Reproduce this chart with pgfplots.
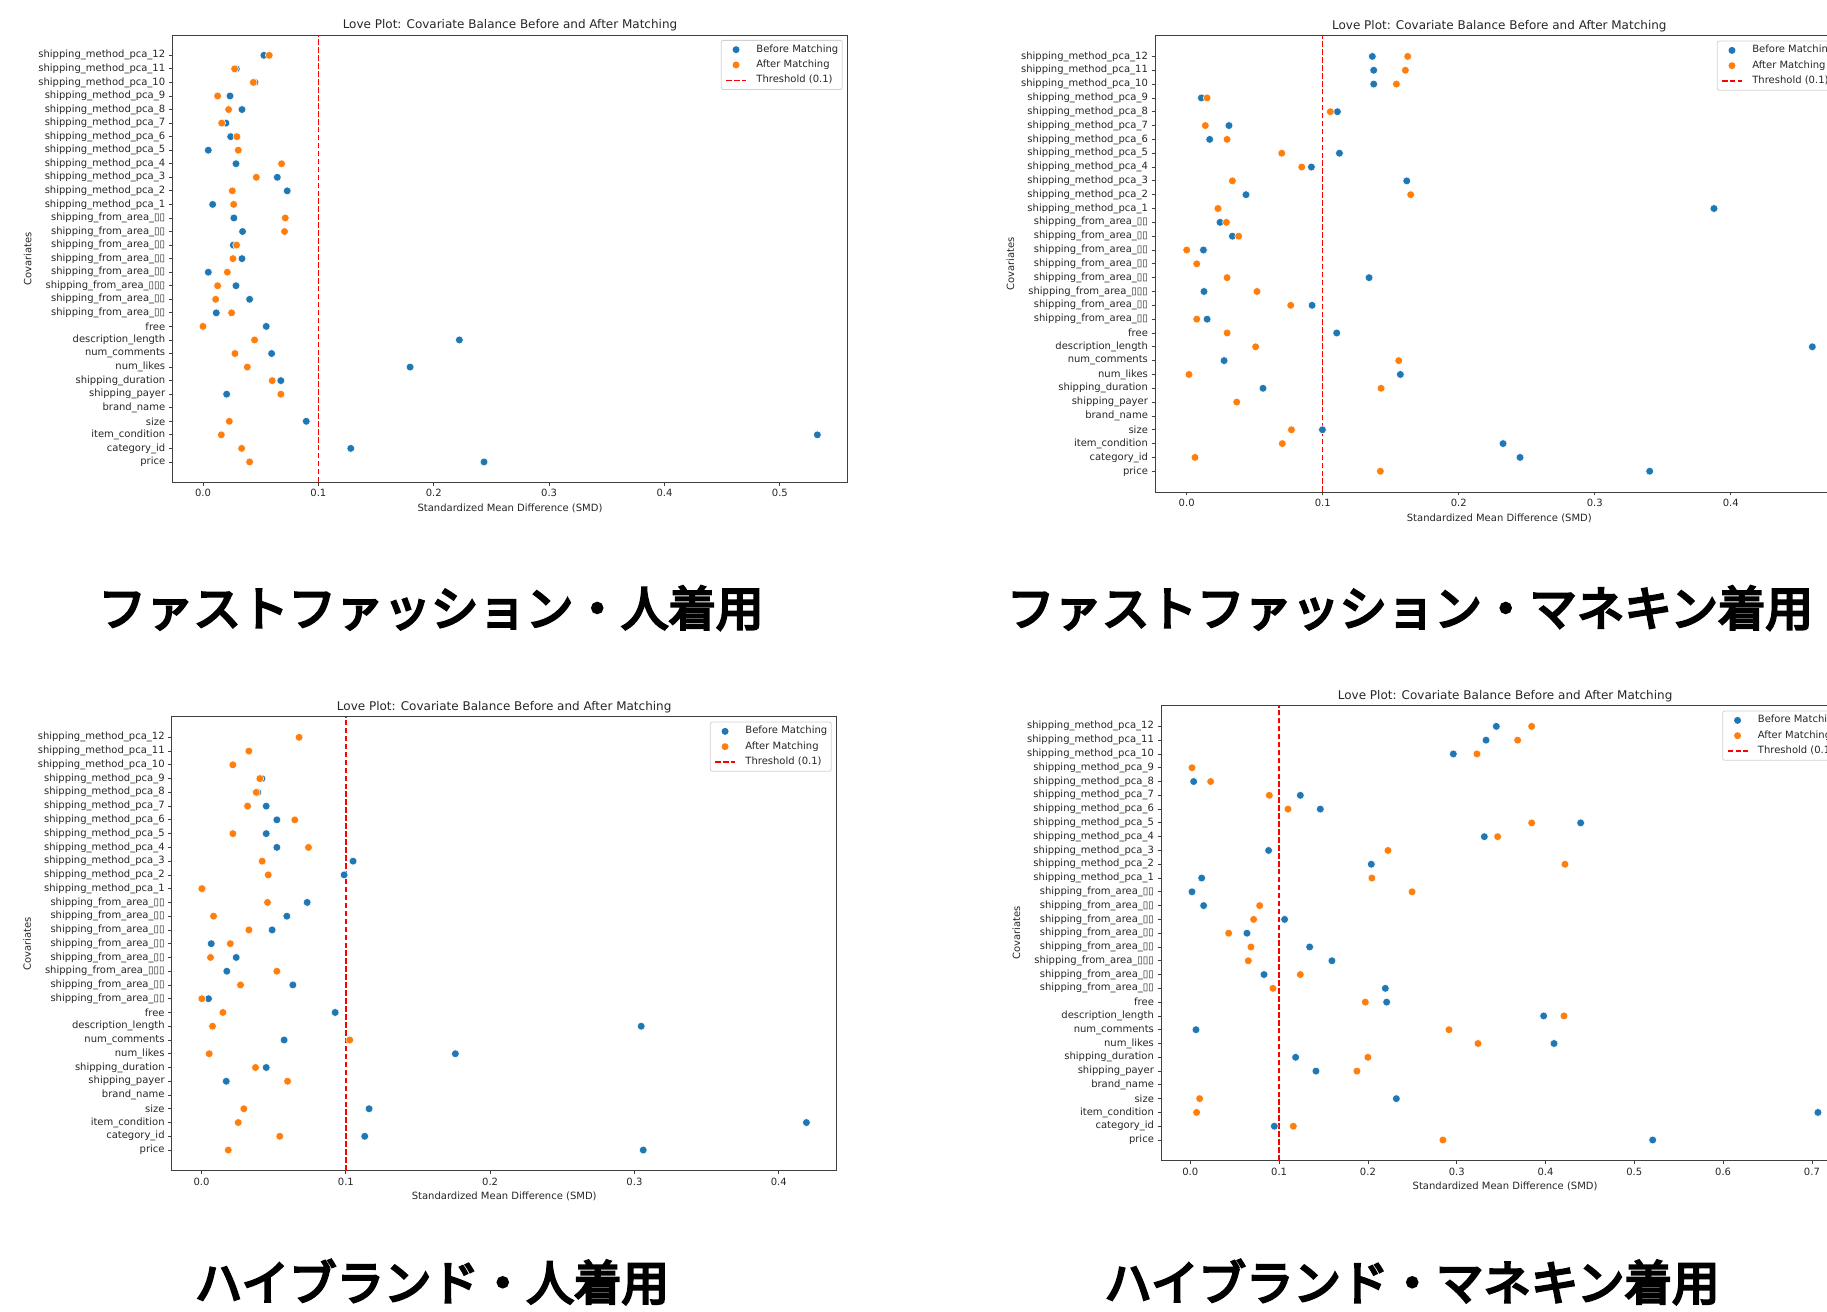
\documentclass[border=0pt]{standalone}
\usepackage{fontspec}
\setmainfont{DejaVu Sans}
\newfontfamily\cjk{Noto Sans CJK JP}[FakeBold=5]
\usepackage{pgfplots}
\usepackage{pgfplotstable}
\pgfplotsset{compat=1.18}
\definecolor{c1}{HTML}{1F77B4}
\definecolor{c2}{HTML}{FF7F0E}

% idx: 0 = price (bottom) ... 30 = shipping_method_pca_12 (top)
\pgfplotstableread{
i b a
30 0.0528 0.0574
29 0.0289 0.0274
28 0.0450 0.0436
27 0.0234 0.0127
26 0.0338 0.0222
25 0.0199 0.0162
24 0.0240 0.0294
23 0.0046 0.0306
22 0.0286 0.0681
21 0.0644 0.0462
20 0.0730 0.0254
19 0.0084 0.0266
18 0.0268 0.0713
17 0.0343 0.0707
16 0.0263 0.0291
15 0.0338 0.0260
14 0.0046 0.0211
13 0.0286 0.0127
12 0.0404 0.0110
11 0.0115 0.0248
10 0.0548 0.0000
9 0.2222 0.0447
8 0.0595 0.0277
7 0.1795 0.0384
6 0.0675 0.0600
5 0.0205 0.0675
4 nan nan
3 0.0895 0.0228
2 0.5325 0.0159
1 0.1281 0.0335
0 0.2436 0.0404
}\dataA

\pgfplotstableread{
i b a
30 0.1365 0.1625
29 0.1375 0.1608
28 0.1375 0.1542
27 0.0108 0.0150
26 0.1108 0.1056
25 0.0311 0.0137
24 0.0169 0.0297
23 0.1123 0.0699
22 0.0917 0.0846
21 0.1618 0.0336
20 0.0436 0.1647
19 0.3877 0.0230
18 0.0245 0.0292
17 0.0336 0.0382
16 0.0123 0.0000
15 nan 0.0074
14 0.1341 0.0297
13 0.0127 0.0517
12 0.0922 0.0765
11 0.0150 0.0074
10 0.1103 0.0297
9 0.4600 0.0507
8 0.0275 0.1559
7 0.1571 0.0017
6 0.0561 0.1429
5 nan 0.0368
4 nan nan
3 0.0998 0.0770
2 0.2326 0.0703
1 0.2451 0.0061
0 0.3404 0.1424
}\dataB

\pgfplotstableread{
i b a
30 nan 0.0676
29 nan 0.0328
28 nan 0.0217
27 0.0418 0.0404
26 0.0390 0.0379
25 0.0448 0.0319
24 0.0522 0.0646
23 0.0448 0.0217
22 0.0522 0.0741
21 0.1050 0.0420
20 0.0988 0.0462
19 0.0007 0.0002
18 0.0732 0.0457
17 0.0591 0.0083
16 0.0489 0.0328
15 0.0067 0.0199
14 0.0240 0.0062
13 0.0175 0.0522
12 0.0633 0.0270
11 0.0048 0.0002
10 0.0926 0.0148
9 0.3047 0.0076
8 0.0572 0.1027
7 0.1759 0.0053
6 0.0448 0.0374
5 0.0171 0.0596
4 nan nan
3 0.1161 0.0293
2 0.4192 0.0254
1 0.1131 0.0542
0 0.3061 0.0185
}\dataC

\pgfplotstableread{
i b a
30 0.3446 0.3844
29 0.3330 0.3686
28 0.2962 0.3228
27 nan 0.0019
26 0.0038 0.0229
25 0.1239 0.0890
24 0.1464 0.1100
23 0.4396 0.3844
22 0.3311 0.3461
21 0.0882 0.2226
20 0.2038 0.4219
19 0.0128 0.2045
18 0.0019 0.2497
17 0.0150 0.0781
16 0.1062 0.0713
15 0.0638 0.0432
14 0.1344 0.0683
13 0.1595 0.0653
12 0.0830 0.1239
11 0.2196 0.0931
10 0.2211 0.1971
9 0.3979 0.4208
8 0.0064 0.2913
7 0.4096 0.3240
6 0.1186 0.2000
5 0.1415 0.1877
4 nan nan
3 0.2320 0.0105
2 0.7068 0.0071
1 0.0946 0.1160
0 0.5207 0.2845
}\dataD

\pgfplotsset{
  love/.style={
    scale only axis,
    ymin=-1.5, ymax=31.5,
    ytick={0,...,30},
    yticklabels={price,category\_id,item\_condition,size,brand\_name,shipping\_payer,shipping\_duration,num\_likes,num\_comments,description\_length,free,shipping\_from\_area\_▯▯,shipping\_from\_area\_▯▯,shipping\_from\_area\_▯▯▯,shipping\_from\_area\_▯▯,shipping\_from\_area\_▯▯,shipping\_from\_area\_▯▯,shipping\_from\_area\_▯▯,shipping\_from\_area\_▯▯,shipping\_method\_pca\_1,shipping\_method\_pca\_2,shipping\_method\_pca\_3,shipping\_method\_pca\_4,shipping\_method\_pca\_5,shipping\_method\_pca\_6,shipping\_method\_pca\_7,shipping\_method\_pca\_8,shipping\_method\_pca\_9,shipping\_method\_pca\_10,shipping\_method\_pca\_11,shipping\_method\_pca\_12},
    axis line style={black!75, line width=0.4pt},
    tick style={black!75, line width=0.4pt},
    tick align=outside, tick pos=left,
    major tick length=1.75pt,
    tick label style={font=\fontsize{5}{6}\selectfont, text=black!85, inner sep=1.6pt},
    /pgf/number format/assume math mode=true,
    xticklabel style={/pgf/number format/.cd, fixed, fixed zerofill, precision=1},
    xlabel={Standardized Mean Difference (SMD)},
    ylabel={Covariates},
    label style={font=\fontsize{5}{6}\selectfont, text=black!85, inner sep=1.6pt},
    title={Love Plot: Covariate Balance Before and After Matching},
    title style={font=\fontsize{6}{7}\selectfont, text=black!85, inner sep=1.6pt, yshift=-6pt},
    legend cell align=left,
    legend style={at={(1,1)}, anchor=north east, xshift=-2.5pt, yshift=-2.5pt,
      draw=black!18, line width=0.4pt, rounded corners=1pt, fill=white,
      font=\fontsize{5}{6}\selectfont, text=black!85,
      nodes={inner ysep=1pt, inner xsep=0pt, text height=3.75pt, text depth=1.15pt},
      row sep=0.75pt, inner xsep=2pt, inner ysep=1.2pt},
  },
  bef/.style={only marks, mark=*, mark size=1.95pt,
    mark options={fill=c1, draw=white, line width=0.25pt},
    legend image code/.code={\node[draw=none,fill=none,inner sep=0pt,minimum width=10pt,minimum height=1pt] at (5pt,0pt) {}; \fill[c1,draw=none] (5pt,0pt) circle (1.75pt);}},
  aft/.style={only marks, mark=*, mark size=1.95pt,
    mark options={fill=c2, draw=white, line width=0.25pt},
    legend image code/.code={\node[draw=none,fill=none,inner sep=0pt,minimum width=10pt,minimum height=1pt] at (5pt,0pt) {}; \fill[c2,draw=none] (5pt,0pt) circle (1.75pt);}},
  thr/.style={red, line width=0.75pt, dash pattern=on 2.775pt off 1.2pt,
    legend image code/.code={\draw[red, line width=0.75pt, dash pattern=on 2.775pt off 1.2pt] (0pt,0pt) -- (10pt,0pt);}},
}

\begin{document}
\begin{tikzpicture}
\useasboundingbox (0pt,0pt) rectangle (913.5pt,656pt);

% Panel 1
\begin{axis}[love, at={(86.15pt,638.5pt)}, anchor=north west,
  width=337.7pt, height=223.65pt,
  xmin=-0.0266, xmax=0.5588, xtick={0,0.1,0.2,0.3,0.4,0.5}]
  \addplot[bef] table[x=b,y=i] {\dataA};
  \addlegendentry{Before Matching}
  \addplot[aft] table[x=a,y=i] {\dataA};
  \addlegendentry{After Matching}
  \addplot[thr] coordinates {(0.1,-1.5) (0.1,31.5)};
  \addlegendentry{Threshold (0.1)}
\end{axis}

% Panel 2
\begin{axis}[love, at={(577.5pt,638.15pt)}, anchor=north west,
  width=344.3pt, height=228.15pt,
  xmin=-0.0233, xmax=0.4830, xtick={0,0.1,0.2,0.3,0.4}]
  \addplot[bef] table[x=b,y=i] {\dataB};
  \addlegendentry{Before Matching}
  \addplot[aft] table[x=a,y=i] {\dataB};
  \addlegendentry{After Matching}
  \addplot[thr] coordinates {(0.1,-1.5) (0.1,31.5)};
  \addlegendentry{Threshold (0.1)}
\end{axis}

% Panel 3
\begin{axis}[love, at={(85.85pt,297.65pt)}, anchor=north west,
  width=332.5pt, height=227pt,
  xmin=-0.0207, xmax=0.4402, xtick={0,0.1,0.2,0.3,0.4}]
  \addplot[bef] table[x=b,y=i] {\dataC};
  \addlegendentry{Before Matching}
  \addplot[aft] table[x=a,y=i] {\dataC};
  \addlegendentry{After Matching}
  \addplot[thr] coordinates {(0.1,-1.5) (0.1,31.5)};
  \addlegendentry{Threshold (0.1)}
\end{axis}

% Panel 4
\begin{axis}[love, at={(580.5pt,303.15pt)}, anchor=north west,
  width=344.1pt, height=227.5pt,
  xmin=-0.033, xmax=0.742, xtick={0,0.1,0.2,0.3,0.4,0.5,0.6,0.7}]
  \addplot[bef] table[x=b,y=i] {\dataD};
  \addlegendentry{Before Matching}
  \addplot[aft] table[x=a,y=i] {\dataD};
  \addlegendentry{After Matching}
  \addplot[thr] coordinates {(0.1,-1.5) (0.1,31.5)};
  \addlegendentry{Threshold (0.1)}
\end{axis}

% Captions
\node[font=\cjk\fontsize{23.75}{25}\selectfont, inner sep=0pt] at (215.5pt,352pt) {ファストファッション・人着用};
\node[font=\cjk\fontsize{23.75}{25}\selectfont, inner sep=0pt] at (705pt,352pt) {ファストファッション・マネキン着用};
\node[font=\cjk\fontsize{23.75}{25}\selectfont, inner sep=0pt] at (216pt,15pt) {ハイブランド・人着用};
\node[font=\cjk\fontsize{23.75}{25}\selectfont, inner sep=0pt] at (706pt,15pt) {ハイブランド・マネキン着用};
\end{tikzpicture}
\end{document}
